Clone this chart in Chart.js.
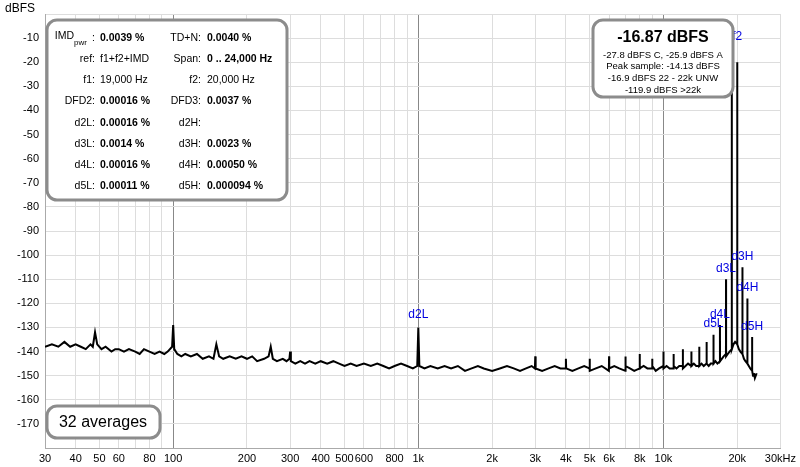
<!DOCTYPE html>
<html><head>
<script src="https://cdn.jsdelivr.net/npm/chart.js@4/dist/chart.umd.min.js"></script>
<style>body{margin:0;background:#fff}#wrap{width:800px;height:467px;position:relative}</style>
</head><body><div id="wrap"><canvas id="c"></canvas></div>
<script>
// spectrum (Hz, dBFS)
const freqs = [30,32,34,36,38,40,42,44,46,47,48,49,51,53,56,58,60,63,66,70,73,76,80,84,88,92,95,99,100,101,104,108,112,118,125,132,140,146,150,154,160,170,180,190,200,210,220,235,245,250,255,265,280,290,298,300,302,315,330,345,360,380,400,425,450,475,500,530,560,600,640,680,720,760,800,850,900,950,990,1000,1010,1060,1120,1200,1280,1360,1450,1550,1650,1750,1850,2000,2150,2300,2450,2600,2750,2900,2990,3000,3010,3200,3400,3600,3800,3990,4000,4010,4250,4500,4750,4990,5000,5010,5300,5600,5990,6000,6010,6300,6600,6990,7000,7010,7300,7600,7990,8000,8010,8300,8600,8990,9000,9010,9300,9600,9990,10000,10010,10300,10600,10990,11000,11010,11300,11600,11990,12000,12010,12300,12600,12990,13000,13010,13300,13600,13990,14000,14010,14300,14600,14990,15000,15010,15300,15600,15990,16000,16010,16300,16600,16990,17000,17010,17300,17600,17990,18000,18010,18300,18600,18990,19000,19010,19300,19600,19990,20000,20010,20300,20600,20990,21000,21010,21300,21600,21990,22000,22010,22300,22600,22990,23000,23010,23200,23400,23600,23800,24000];
const levels = [-138,-137,-138,-136,-138,-137,-138,-139,-137,-138,-132,-137,-139,-138,-140,-139,-139,-140,-139,-140,-141,-139,-140,-141,-140,-141,-140,-138,-129,-139,-141,-142,-141,-142,-141,-143,-142,-143,-137,-142,-143,-142,-143,-142,-143,-142,-144,-143,-142,-138,-143,-144,-143,-144,-143,-140,-144,-145,-144,-145,-144,-145,-144,-145,-144,-145,-146,-145,-146,-145,-146,-145,-146,-147,-146,-145,-146,-147,-146,-130,-146,-147,-146,-147,-146,-147,-146,-148,-147,-146,-147,-148,-147,-146,-147,-148,-147,-146,-147,-142,-147,-148,-147,-146,-147,-147,-143,-147,-148,-147,-146,-147,-143,-148,-147,-146,-148,-142,-147,-146,-147,-148,-142,-146,-147,-148,-147,-141,-147,-146,-147,-147,-143,-146,-148,-147,-146,-140,-147,-146,-147,-147,-141,-146,-147,-146,-146,-139,-147,-146,-145,-146,-140,-146,-145,-146,-146,-138,-146,-145,-146,-145,-136,-145,-146,-145,-145,-133,-145,-144,-145,-144,-129,-144,-143,-142,-141,-110,-142,-141,-140,-139,-20,-139,-137,-136,-137,-20,-137,-139,-140,-141,-105,-141,-143,-144,-145,-118,-145,-146,-147,-148,-134,-148,-150,-149,-151,-150,-149];
const xTicks = [30,40,50,60,80,100,200,300,400,500,600,800,1000,2000,3000,4000,5000,6000,8000,10000,20000,30000];
const xTickText = ['30','40','50','60','80','100','200','300','400','500','600','800','1k','2k','3k','4k','5k','6k','8k','10k','20k','30kHz'];
const yTicks = [-10,-20,-30,-40,-50,-60,-70,-80,-90,-100,-110,-120,-130,-140,-150,-160,-170];
const peakLabels = [['f2',20000,-12],['d2L',1000,-127],['d3L',18000,-108],['d3H',21000,-103],['d4L',17000,-127],['d4H',22000,-116],['d5L',16000,-131],['d5H',23000,-132]];
const statsLeft = [['IMD','0.0039 %',true],['ref:','f1+f2+IMD',false],['f1:','19,000 Hz',false],['DFD2:','0.00016 %',true],['d2L:','0.00016 %',true],['d3L:','0.0014 %',true],['d4L:','0.00016 %',true],['d5L:','0.00011 %',true]];
const statsRight = [['TD+N:','0.0040 %',true],['Span:','0 .. 24,000 Hz',true],['f2:','20,000 Hz',false],['DFD3:','0.0037 %',true],['d2H:','',true],['d3H:','0.0023 %',true],['d4H:','0.00050 %',true],['d5H:','0.000094 %',true]];
const peakLines = ['-27.8 dBFS C, -25.9 dBFS A','Peak sample: -14.13 dBFS','-16.9 dBFS 22 - 22k UNW','-119.9 dBFS >22k'];

const F = 'Liberation Sans, Arial, sans-serif';
function box(ctx, x, y, w, h) {
  ctx.save();
  ctx.beginPath(); ctx.roundRect(x, y, w, h, 10);
  ctx.fillStyle = '#fff'; ctx.fill();
  ctx.lineWidth = 3; ctx.strokeStyle = '#8c8c8c'; ctx.stroke();
  ctx.restore();
}
const overlay = {
  id: 'overlay',
  afterDatasetsDraw(chart) {
    const ctx = chart.ctx, xs = chart.scales.x, ys = chart.scales.y;
    ctx.save();
    ctx.fillStyle = '#0000e0'; ctx.font = '12px ' + F; ctx.textAlign = 'center'; ctx.textBaseline = 'bottom';
    peakLabels.forEach(p => ctx.fillText(p[0], xs.getPixelForValue(p[1]), ys.getPixelForValue(p[2])));
    // stats box
    box(ctx, 47, 20, 240, 180);
    ctx.fillStyle = '#000'; ctx.textBaseline = 'middle';
    statsLeft.forEach((r, i) => {
      const y = 38 + i * 21.2;
      ctx.textAlign = 'right'; ctx.font = '10.5px ' + F;
      if (i === 0) { ctx.fillText(':', 95, y); ctx.fillText('IMD', 74, y - 2); ctx.font = '8px ' + F; ctx.textAlign = 'left'; ctx.fillText('pwr', 74, y + 5); }
      else ctx.fillText(r[0], 95, y);
      ctx.textAlign = 'left'; ctx.font = (r[2] ? 'bold ' : '') + '10.5px ' + F;
      ctx.fillText(r[1], 100, y);
    });
    statsRight.forEach((r, i) => {
      const y = 38 + i * 21.2;
      ctx.textAlign = 'right'; ctx.font = '10.5px ' + F; ctx.fillText(r[0], 201, y);
      ctx.textAlign = 'left'; ctx.font = (r[2] ? 'bold ' : '') + '10.5px ' + F; ctx.fillText(r[1], 207, y);
    });
    // peak box
    box(ctx, 593, 20, 140, 77);
    ctx.textAlign = 'center'; ctx.font = 'bold 16px ' + F; ctx.fillText('-16.87 dBFS', 663, 38);
    ctx.font = '9.5px ' + F;
    peakLines.forEach((t, i) => ctx.fillText(t, 663, 55 + i * 11.8));
    // averages box
    box(ctx, 47, 406, 113, 32);
    ctx.font = '16px ' + F; ctx.fillText('32 averages', 103, 423);
    ctx.textAlign = 'left'; ctx.font = '12px ' + F; ctx.fillText('dBFS', 5, 9);
    ctx.restore();
  }
};

new Chart(document.getElementById('c'), {
  type: 'line',
  data: { datasets: [{ data: freqs.map((f, i) => ({ x: f, y: levels[i] })), borderColor: '#000', borderWidth: 2, pointRadius: 0, tension: 0 }] },
  options: {
    responsive: true, maintainAspectRatio: false, animation: false,
    layout: { padding: { top: 14, right: 15, left: 0, bottom: 0 } },
    plugins: { legend: { display: false }, tooltip: { enabled: false } },
    scales: {
      x: {
        type: 'logarithmic', min: 30, max: 30000,
        afterBuildTicks: s => {
          const t = [];
          [10, 100, 1000, 10000].forEach(d => { for (let k = 1; k < 10; k++) { const v = d * k; if (v >= 30 && v <= 30000) t.push({ value: v }); } });
          s.ticks = t;
        },
        afterFit: s => { s.height = 19; },
        ticks: { autoSkip: false, maxRotation: 0, color: '#000', padding: 4, font: { family: F, size: 11 },
          callback: v => { const i = xTicks.indexOf(v); return i < 0 ? '' : xTickText[i]; } },
        grid: { color: c => [100, 1000, 10000].includes(c.tick && c.tick.value) ? '#888' : '#ddd', drawTicks: false },
        border: { color: '#aaa' }
      },
      y: {
        min: -180, max: 0,
        afterBuildTicks: s => { s.ticks = []; for (let v = 0; v >= -180; v -= 10) s.ticks.push({ value: v }); },
        afterFit: s => { s.width = 45; },
        ticks: { color: '#000', font: { family: F, size: 11 }, padding: 6,
          callback: v => yTicks.includes(v) ? String(v) : '' },
        grid: { color: '#ddd', drawTicks: false },
        border: { color: '#aaa' }
      }
    }
  },
  plugins: [overlay]
});
</script></body></html>
